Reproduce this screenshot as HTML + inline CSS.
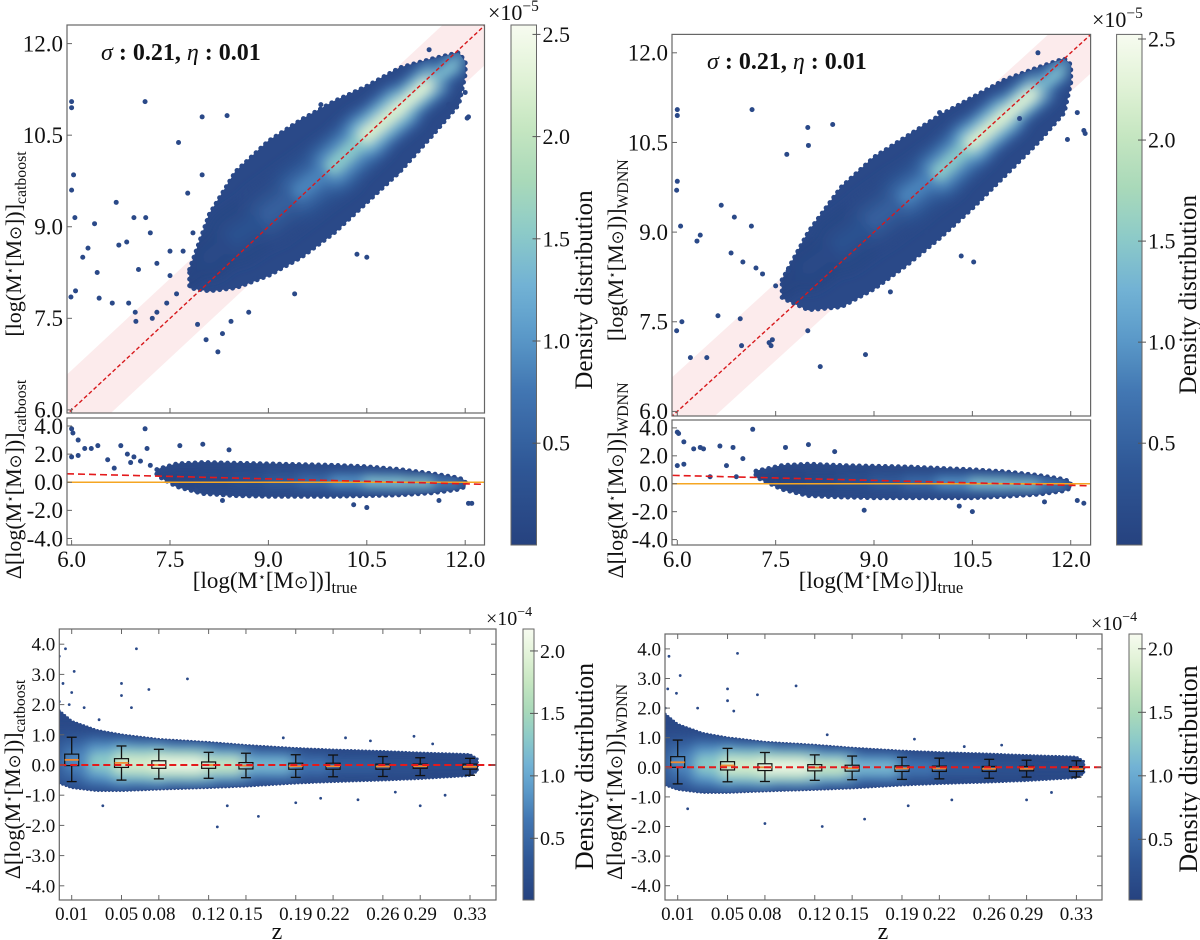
<!DOCTYPE html>
<html><head><meta charset="utf-8"><title>Stellar mass prediction comparison</title>
<style>
html,body{margin:0;padding:0;background:#fff;}
svg{display:block;}
text{font-family:"Liberation Serif","Times New Roman",Times,"DejaVu Serif",serif;}
</style></head>
<body>
<svg id="fig" width="1200" height="940" viewBox="0 0 1200 940" xmlns="http://www.w3.org/2000/svg" font-family="Liberation Serif, Times New Roman, serif">
<defs>
<filter id="blur5" filterUnits="userSpaceOnUse" x="0" y="0" width="1200" height="940"><feGaussianBlur stdDeviation="5"/></filter>
</defs>
</svg>
<script>
// ---------- data ----------
const topXTicks=[6.0,7.5,9.0,10.5,12.0];
const topYTicks=[6.0,7.5,9.0,10.5,12.0];
const resYTicks=[4.0,2.0,0.0,-2.0,-4.0];
const zTicks=[0.01,0.05,0.08,0.12,0.15,0.19,0.22,0.26,0.29,0.33];
const zYTicks=[4.0,3.0,2.0,1.0,0.0,-1.0,-2.0,-3.0,-4.0];
const cbTopTicks=[0.5,1.0,1.5,2.0,2.5];
const cbBotTicks=[0.5,1.0,1.5,2.0];

// main scatter cloud (catboost)
const cbCloudX=[7.8,8.1,8.5,9.0,9.5,10.0,10.5,11.0,11.5,11.9,12.0];
const cbCloudHi=[8.3,9.2,9.9,10.4,10.75,11.05,11.3,11.6,11.75,11.85,11.7];
const cbCloudLo=[8.0,7.95,8.0,8.2,8.5,8.9,9.4,9.9,10.5,11.0,11.5];
const cbCoreY=[8.15,8.5,8.85,9.2,9.6,10.0,10.5,10.95,11.4,11.7,11.65];
const cbCoreD=[0.05,0.1,0.2,0.35,0.6,1.1,1.9,2.5,2.0,0.8,0.3];
const cbOutX=[6.0,6.0,6.03,6.0,6.05,5.99,6.06,6.35,6.25,6.17,6.42,6.39,6.62,6.72,6.87,6.68,6.84,6.95,7.13,7.12,7.63,7.99,7.99,8.37,7.77,6.98,6.97,7.23,7.3,7.92,8.05,8.23,8.3,8.43,7.02,7.5,7.2,10.35,10.5,10.97,12.05,12.03,12.0,11.6,11.75,11.45,9.8,8.8,7.45,7.6,8.7,9.4,7.3,7.5,7.7,7.85];
const cbOutY=[11.05,10.95,9.85,9.6,9.15,7.85,7.95,9.05,8.65,8.5,7.83,8.25,7.75,8.7,7.75,9.4,8.75,9.15,9.15,11.05,10.38,10.8,9.85,10.82,9.55,7.45,7.6,7.5,7.6,7.4,7.15,6.95,7.25,7.45,8.3,8.6,8.9,8.55,8.5,9.9,10.8,10.78,11.2,10.65,11.0,11.9,11.0,8.15,7.75,7.9,7.6,7.9,8.4,8.2,8.6,8.9];
// residual (catboost)
const cbResX=[7.3,7.6,8.0,8.5,9.0,9.5,10.0,10.5,11.0,11.5,11.9,12.0];
const cbResHi=[0.9,1.3,1.4,1.35,1.3,1.25,1.2,1.1,0.9,0.6,0.3,0.1];
const cbResLo=[0.5,-0.3,-0.8,-0.95,-1.0,-1.0,-1.0,-0.95,-0.9,-0.75,-0.5,-0.3];
const cbResCoreY=[0.3,0.3,0.25,0.2,0.15,0.1,0.08,0.05,0.0,-0.05,-0.1,-0.1];
const cbResCoreD=[0.02,0.05,0.1,0.2,0.35,0.55,0.8,1.3,1.8,1.5,0.7,0.3];
const cbResOutX=[6.0,6.02,6.1,6.2,6.3,6.4,6.55,6.65,6.75,6.85,6.95,7.05,7.12,7.15,6.0,6.1,7.65,8.0,8.4,12.05,12.1,10.5,10.3,8.3,11.6,7.6,7.9,6.9,7.2];
const cbResOutY=[3.8,3.5,3.0,2.4,2.4,2.6,1.6,1.0,2.6,2.0,1.8,1.5,3.8,2.4,1.8,1.9,2.6,2.7,2.3,-1.5,-1.5,-1.8,-1.6,-1.3,-1.3,-0.1,-0.6,1.4,1.2];
const regLineX=[5.93,12.3];
const regLineY=[0.6,-0.15];

// main scatter cloud (WDNN)
const wdCloudX=[7.6,8.0,8.5,9.0,9.5,10.0,10.5,11.0,11.5,11.9,12.0];
const wdCloudHi=[8.2,9.0,9.75,10.25,10.6,10.95,11.25,11.55,11.75,11.9,11.8];
const wdCloudLo=[7.9,7.7,7.75,8.05,8.45,8.9,9.4,9.95,10.5,11.0,11.5];
const wdCoreY=[8.05,8.4,8.8,9.2,9.6,10.0,10.5,10.95,11.4,11.75,11.7];
const wdCoreD=[0.05,0.1,0.2,0.35,0.6,1.1,1.9,2.5,2.0,0.8,0.3];
const wdOutX=[6.0,6.0,6.0,5.99,6.05,5.99,6.07,6.3,6.2,6.35,6.45,6.67,6.62,6.82,6.87,6.96,6.98,7.13,7.14,7.67,7.99,8.0,8.37,7.99,8.18,8.87,7.43,7.4,7.45,7.69,10.33,10.52,11.22,12.1,12.2,12.22,11.95,11.5,10.0,9.6,9.8,9.25,7.2,7.0,7.3,7.5];
const wdOutY=[11.05,10.95,9.85,9.7,9.1,7.35,7.5,8.85,6.9,8.95,6.9,9.45,7.6,8.65,9.25,7.55,7.1,9.1,11.05,10.3,10.75,10.45,10.8,7.35,6.75,6.95,7.1,7.15,7.2,8.35,8.6,8.5,10.9,11.0,10.7,10.65,10.55,12.0,11.0,10.65,9.0,8.0,8.4,8.5,8.3,8.1];
const wdResX=[7.2,7.6,8.0,8.5,9.0,9.5,10.0,10.5,11.0,11.5,11.9,12.0];
const wdResHi=[0.9,1.3,1.4,1.3,1.25,1.2,1.1,1.0,0.85,0.6,0.3,0.1];
const wdResLo=[0.5,-0.4,-0.85,-0.95,-1.0,-1.0,-1.0,-1.0,-0.9,-0.75,-0.5,-0.3];
const wdResCoreY=[0.3,0.3,0.25,0.2,0.15,0.1,0.08,0.05,0.0,-0.05,-0.1,-0.1];
const wdResCoreD=[0.02,0.05,0.1,0.2,0.35,0.55,0.8,1.3,1.8,1.5,0.7,0.3];
const wdResOutX=[6.0,6.02,6.1,6.25,6.35,6.4,6.0,6.1,6.65,6.75,6.85,7.15,7.0,7.65,8.0,8.4,12.1,12.2,10.5,10.3,8.85,11.6,7.5,6.5,6.9];
const wdResOutY=[3.7,3.6,3.0,2.5,2.6,2.5,1.3,1.4,2.7,1.3,2.6,3.9,1.8,2.6,2.8,2.3,-1.2,-1.4,-2.0,-1.6,-1.9,-1.3,0.0,0.5,0.5];

// redshift residuals
const zCloudX=[0.0,0.01,0.03,0.05,0.08,0.12,0.15,0.19,0.22,0.26,0.29,0.33,0.336];
const zCloudHi=[1.8,1.45,1.15,1.0,0.85,0.75,0.65,0.55,0.5,0.45,0.4,0.35,0.2];
const zCloudLo=[-0.6,-0.75,-0.85,-0.85,-0.8,-0.75,-0.7,-0.6,-0.55,-0.5,-0.45,-0.35,-0.2];
const zCoreY=[0.15,0.15,0.1,0.05,0.02,0.0,0.0,-0.02,-0.03,-0.04,-0.04,-0.05,-0.05];
const zCoreD=[0.2,0.5,1.0,1.6,2.1,2.0,1.5,0.8,0.5,0.3,0.2,0.1,0.1];
const cbZOutX=[0.0,0.005,0.003,0.01,0.012,0.0,0.008,0.05,0.05,0.062,0.058,0.072,0.103,0.127,0.16,0.035,0.29,0.31,0.27,0.24,0.19,0.23,0.285,0.25,0.135,0.02,0.032,0.21,0.18,0.3];
const cbZOutY=[3.6,3.85,2.7,2.4,3.1,2.1,2.0,2.7,2.3,3.85,1.9,2.5,2.85,-2.05,-1.7,-1.35,-1.35,-1.0,-0.9,-1.15,-1.25,0.9,0.95,0.8,-1.35,1.9,1.5,-1.1,0.9,0.7];
const wdZOutX=[0.003,0.012,0.058,0.05,0.05,0.074,0.105,0.08,0.126,0.16,0.018,0.29,0.195,0.23,0.002,0.009,0.026,0.055,0.0,0.24,0.27,0.2,0.13,0.31];
const wdZOutY=[3.75,3.1,3.85,2.65,2.25,2.45,2.75,-1.9,-2.0,-1.75,-1.4,-1.1,-1.3,-1.1,2.65,2.5,2.0,1.9,2.0,0.7,0.75,0.95,1.1,-0.85];

// box plots
const boxZ=[0.01,0.05,0.08,0.12,0.15,0.19,0.22,0.26,0.29,0.33];
const cbQ3=[0.36,0.21,0.14,0.10,0.08,0.06,0.06,0.03,0.03,0.03];
const cbQ1=[-0.02,-0.08,-0.11,-0.11,-0.13,-0.14,-0.14,-0.14,-0.11,-0.14];
const cbMed=[0.17,0.07,0.0,0.0,-0.02,-0.04,-0.04,-0.05,-0.04,-0.06];
const cbWHi=[0.92,0.63,0.52,0.42,0.39,0.34,0.33,0.28,0.24,0.22];
const cbWLo=[-0.55,-0.5,-0.46,-0.44,-0.42,-0.41,-0.39,-0.38,-0.35,-0.34];
const wdQ3=[0.36,0.19,0.12,0.09,0.07,0.05,0.04,0.03,0.03,0.02];
const wdQ1=[0.0,-0.09,-0.11,-0.12,-0.13,-0.14,-0.14,-0.14,-0.12,-0.14];
const wdMed=[0.17,0.06,0.0,-0.01,-0.03,-0.04,-0.04,-0.05,-0.05,-0.06];
const wdWHi=[0.92,0.64,0.5,0.42,0.38,0.34,0.31,0.27,0.24,0.22];
const wdWLo=[-0.56,-0.49,-0.48,-0.44,-0.42,-0.41,-0.39,-0.37,-0.33,-0.33];

// ---------- drawing ----------
const NS='http://www.w3.org/2000/svg';
const svg=document.getElementById('fig');
const defs=svg.querySelector('defs');
function mk(tag,attrs,parent){const e=document.createElementNS(NS,tag);for(const k in attrs)e.setAttribute(k,attrs[k]);(parent||svg).appendChild(e);return e;}
const CM=[[0,'#26427f'],[0.15,'#2f5796'],[0.3,'#4277b3'],[0.42,'#5f9fcc'],[0.5,'#72b2d4'],[0.6,'#8ccac8'],[0.7,'#a9d9b9'],[0.82,'#cbe8c3'],[0.92,'#e6f4dc'],[1,'#f7fbf0']];
function hx(c){return [parseInt(c.substr(1,2),16),parseInt(c.substr(3,2),16),parseInt(c.substr(5,2),16)];}
function cmap(t){t=Math.max(0,Math.min(1,t));for(let i=1;i<CM.length;i++){if(t<=CM[i][0]){const a=hx(CM[i-1][1]),b=hx(CM[i][1]);const f=(t-CM[i-1][0])/(CM[i][0]-CM[i-1][0]);return 'rgb('+a.map((v,k)=>Math.round(v+(b[k]-v)*f)).join(',')+')';}}return CM[CM.length-1][1];}
let clipN=0;
function clipRect(P){const id='clip'+(clipN++);const c=mk('clipPath',{id:id},defs);mk('rect',{x:P.x0,y:P.y0,width:P.x1-P.x0,height:P.y1-P.y0},c);return id;}

function drawAxesFrame(P,name){
  const r=mk('rect',{x:P.x0,y:P.y0,width:P.x1-P.x0,height:P.y1-P.y0,fill:'none',stroke:'#666','stroke-width':1.2});
  
  
}
function yTicks(P,ticks,fmt,fs,name,both){
  const g=mk('g',{});
  
  
  ticks.forEach(v=>{const y=P.py(v);
    mk('line',{x1:P.x0,x2:P.x0+5,y1:y,y2:y,stroke:'#666','stroke-width':1},g);
    if(both)mk('line',{x1:P.x1,x2:P.x1-5,y1:y,y2:y,stroke:'#666','stroke-width':1},g);
    const t=mk('text',{x:P.x0-4,y:y+fs*0.34,'font-size':fs,'text-anchor':'end',fill:'#111'},g);t.textContent=fmt(v);});
}
function xTicks(P,ticks,fmt,fs,name,labels,base,both){
  const g=mk('g',{});
  
  
  ticks.forEach(v=>{const x=P.px(v);
    mk('line',{x1:x,x2:x,y1:P.y1,y2:P.y1-5,stroke:'#666','stroke-width':1},g);
    if(both)mk('line',{x1:x,x2:x,y1:P.y0,y2:P.y0+5,stroke:'#666','stroke-width':1},g);
    if(labels){const t=mk('text',{x:x,y:base,'font-size':fs,'text-anchor':'middle',fill:'#111'},g);t.textContent=fmt(v);}});
}
function cloud(P,xs,hi,lo,coreY,dens,vmax,name,scale,dotR,layers){
  const pts=xs.map((x,i)=>P.px(x)+','+P.py(hi[i])).concat(xs.slice().reverse().map((x,j)=>{const i=xs.length-1-j;return P.px(x)+','+P.py(lo[i]);})).join(' ');
  const cid='clip'+(clipN++);const c=mk('clipPath',{id:cid},defs);mk('polygon',{points:pts},c);
  const g=mk('g',{});
  
  
  mk('polygon',{points:pts,fill:'#2a4988',stroke:'#2a4988','stroke-width':dotR*2,'stroke-dasharray':'0 '+(dotR*2.6),'stroke-linecap':'round','stroke-linejoin':'round'},g);
  mk('polygon',{points:pts,fill:'#2a4988',stroke:'#2a4988','stroke-width':1,'stroke-linejoin':'round'},g);
  const inner=mk('g',{'clip-path':'url(#'+cid+')'},g);
  const bl=mk('g',{filter:'url(#blur5)'},inner);
  layers.forEach(([wf,df])=>{
    for(let i=0;i<xs.length-1;i++){
      const w=Math.abs(P.py(hi[i])-P.py(lo[i])+P.py(hi[i+1])-P.py(lo[i+1]))/2*wf*scale;
      const d=(dens[i]+dens[i+1])/2*df;
      mk('line',{x1:P.px(xs[i]),y1:P.py(coreY[i]),x2:P.px(xs[i+1]),y2:P.py(coreY[i+1]),stroke:cmap(d/vmax),'stroke-width':Math.max(1,w),'stroke-linecap':'round'},bl);
    }});
  return g;
}
function outliers(P,xs,ys,r,name,clip){
  const g=mk('g',{'clip-path':'url(#'+clip+')'});
  
  
  xs.forEach((x,i)=>mk('circle',{cx:P.px(x),cy:P.py(ys[i]),r:r,fill:'#2a4988'},g));
}
function colorbar(C,ticks,name,fs,expo,ex,ey,lx,ly,lfs){
  const gid='grad'+(clipN++);
  const lg=mk('linearGradient',{id:gid,x1:0,y1:1,x2:0,y2:0},defs);
  for(let i=0;i<=20;i++)mk('stop',{offset:i/20,'stop-color':cmap(i/20)},lg);
  const g=mk('g',{});
  
  
  mk('rect',{x:C.x0,y:C.y0,width:C.x1-C.x0,height:C.y1-C.y0,fill:'url(#'+gid+')',stroke:'#666','stroke-width':1},g);
  ticks.forEach(v=>{const y=C.pv(v);
    mk('line',{x1:C.x1,x2:C.x1-4,y1:y,y2:y,stroke:'#555','stroke-width':1},g);
    mk('line',{x1:C.x1,x2:C.x1+4,y1:y,y2:y,stroke:'#555','stroke-width':1},g);
    const t=mk('text',{x:C.x1+6,y:y+fs*0.34,'font-size':fs,fill:'#111'},g);t.textContent=v.toFixed(1);});
  const et=mk('text',{x:ex,y:ey,'font-size':fs,fill:'#111'},g);
  
  
  et.innerHTML='×10<tspan dy="-9" font-size="'+(fs*0.7)+'">−'+expo+'</tspan>';
  const lt=mk('text',{x:lx,y:ly,'font-size':lfs,'text-anchor':'middle',fill:'#111',transform:'rotate(-90 '+lx+' '+ly+')'},g);
  
  
  lt.textContent='Density distribution';
}
function massLabel(x,y,fs,sub,delta,rot,name){
  const t=mk('text',{x:x,y:y,'font-size':fs,'text-anchor':'middle',fill:'#111'});
  if(rot)t.setAttribute('transform','rotate(-90 '+x+' '+y+')');
  
  
  t.innerHTML=(delta?'Δ':'')+'[log(M<tspan dy="-7" font-size="'+(fs*0.55)+'">⋆</tspan><tspan dy="7">[M</tspan><tspan font-family="DejaVu Sans" font-size="'+(fs*0.75)+'">⊙</tspan>])]<tspan dy="5" font-size="'+(fs*0.72)+'">'+sub+'</tspan>';
}
function boxes(P,z,q1,med,q3,lo,hi,name){
  const g=mk('g',{});
  
  
  z.forEach((v,i)=>{const x=P.px(v),w=14,cw=10;
    mk('line',{x1:x,x2:x,y1:P.py(hi[i]),y2:P.py(q3[i]),stroke:'#111','stroke-width':1.3},g);
    mk('line',{x1:x,x2:x,y1:P.py(q1[i]),y2:P.py(lo[i]),stroke:'#111','stroke-width':1.3},g);
    mk('line',{x1:x-cw/2,x2:x+cw/2,y1:P.py(hi[i]),y2:P.py(hi[i]),stroke:'#111','stroke-width':1.3},g);
    mk('line',{x1:x-cw/2,x2:x+cw/2,y1:P.py(lo[i]),y2:P.py(lo[i]),stroke:'#111','stroke-width':1.3},g);
    mk('rect',{x:x-w/2,y:P.py(q3[i]),width:w,height:P.py(q1[i])-P.py(q3[i]),fill:'none',stroke:'#111','stroke-width':1.2},g);
    mk('line',{x1:x-w/2,x2:x+w/2,y1:P.py(med[i]),y2:P.py(med[i]),stroke:'#f08a30','stroke-width':1.8},g);});
}

const f1=v=>v.toFixed(1), f2=v=>v.toFixed(2);
const TOP_FS=23, BOT_FS=19, CB_FS=22, CBB_FS=20;

function topPanel(M,R,C,d,sub,sx,sy,prefix,ylx,xlc,ex,ey,lx){
  const cm=clipRect(M), cr=clipRect(R);
  const band=mk('polygon',{'clip-path':'url(#'+cm+')',fill:'#fbe4e5','fill-opacity':0.75,points:[[5.5,5.5+0.65],[12.8,12.8+0.65],[12.8,12.8-0.65],[5.5,5.5-0.65]].map(p=>M.px(p[0])+','+M.py(p[1])).join(' ')});
  
  
  const gm=mk('g',{'clip-path':'url(#'+cm+')'});
  
  
  gm.appendChild(cloud(M,d.cx,d.ch,d.cl,d.cy,d.cd,2.546,prefix+'-density-cloud',0.55,2.5,[[0.85,0.3],[0.55,0.6],[0.25,1.0]]));
  outliers(M,d.ox,d.oy,2.5,prefix+'-outliers',cm);
  const dl=mk('line',{'clip-path':'url(#'+cm+')',x1:M.px(5.9),y1:M.py(5.9),x2:M.px(12.4),y2:M.py(12.4),stroke:'#d7191c','stroke-width':1.4,'stroke-dasharray':'4,2.5'});
  
  
  drawAxesFrame(M,prefix+'-main-axes');
  yTicks(M,topYTicks,f1,TOP_FS,prefix+'-y-ticks',false);
  xTicks(M,topXTicks,f1,TOP_FS,prefix+'-main-x-ticks',false,0,false);
  const st=mk('text',{x:sx,y:sy,'font-size':24,fill:'#111','font-weight':'bold'});
  
  
  st.innerHTML='<tspan font-style="italic" font-weight="normal">σ</tspan> : 0.21, <tspan font-style="italic" font-weight="normal">η</tspan> : 0.01';
  const gr=mk('g',{'clip-path':'url(#'+cr+')'});
  
  
  gr.appendChild(cloud(R,d.rx,d.rh,d.rl,d.ry,d.rd,2.546,prefix+'-residual-cloud',0.8,2.5,[[0.85,0.35],[0.55,0.7],[0.25,1.0]]));
  outliers(R,d.rox,d.roy,2.5,prefix+'-residual-outliers',cr);
  const zl=mk('line',{x1:R.x0,x2:R.x1,y1:R.py(0),y2:R.py(0),stroke:'#f5a623','stroke-width':1.6});
  
  
  const rl=mk('line',{'clip-path':'url(#'+cr+')',x1:R.px(regLineX[0]),y1:R.py(regLineY[0]),x2:R.px(regLineX[1]),y2:R.py(regLineY[1]),stroke:'#e41a1c','stroke-width':1.6,'stroke-dasharray':'7,4'});
  
  
  drawAxesFrame(R,prefix+'-residual-axes');
  yTicks(R,resYTicks,f1,TOP_FS,prefix+'-residual-y-ticks',false);
  xTicks(R,topXTicks,f1,TOP_FS,prefix+'-x-ticks',true,567,false);
  colorbar(C,cbTopTicks,prefix+'-colorbar',CB_FS,5,ex,ey,lx,(C.y0+C.y1)/2+5,25);
  massLabel(ylx,(M.y0+M.y1)/2+25,22,sub,false,true,prefix+'-y-axis-title');
  massLabel(ylx,(R.y0+R.y1)/2-2,22,sub,true,true,prefix+'-residual-y-axis-title');
  massLabel(xlc,588,23,'true',false,false,prefix+'-x-axis-title');
}

const TLm={x0:67,y0:25,x1:484.5,y1:413,px:x=>71.6+(x-6)*65.6,py:y=>43.6+(12-y)*61.05};
const TLr={x0:67,y0:418,x1:484.5,y1:545,px:x=>71.6+(x-6)*65.6,py:y=>426+(4-y)*14.06};
const TLc={x0:511,y0:25,x1:536.5,y1:545,pv:v=>443.2-(v-0.5)*204.4};
const TRm={x0:672,y0:34.4,x1:1090.6,y1:416,px:x=>677.3+(x-6)*65.57,py:y=>52.8+(12-y)*59.77};
const TRr={x0:672,y0:420,x1:1090.6,y1:545,px:x=>677.3+(x-6)*65.57,py:y=>427.9+(4-y)*13.96};
const TRc={x0:1116.6,y0:34.4,x1:1142,y1:545,pv:v=>443.2-(v-0.5)*202.1};
const BLm={x0:59.3,y0:629,x1:496,y1:900,px:z=>71.7+(z-0.01)*1244.7,py:y=>765-30.2*y};
const BLc={x0:523,y0:629,x1:534,y1:900,pv:v=>838.3-(v-0.5)*124.9};
const BRm={x0:665,y0:634,x1:1102,y1:900,px:z=>677.7+(z-0.01)*1246,py:y=>767.3-29.6*y};
const BRc={x0:1129,y0:634,x1:1142,y1:900,pv:v=>839.3-(v-0.5)*127};

topPanel(TLm,TLr,TLc,{cx:cbCloudX,ch:cbCloudHi,cl:cbCloudLo,cy:cbCoreY,cd:cbCoreD,ox:cbOutX,oy:cbOutY,rx:cbResX,rh:cbResHi,rl:cbResLo,ry:cbResCoreY,rd:cbResCoreD,rox:cbResOutX,roy:cbResOutY},'catboost',101,60,'catboost',21,275,488,20,592);
topPanel(TRm,TRr,TRc,{cx:wdCloudX,ch:wdCloudHi,cl:wdCloudLo,cy:wdCoreY,cd:wdCoreD,ox:wdOutX,oy:wdOutY,rx:wdResX,rh:wdResHi,rl:wdResLo,ry:wdResCoreY,rd:wdResCoreD,rox:wdResOutX,roy:wdResOutY},'WDNN',707,69,'wdnn',623,881,1092,27,1196);

function zPanel(P,C,ox,oy,q1,med,q3,lo,hi,sub,prefix,ylx,zx,ex,ey,lx){
  const c=clipRect(P);
  const g=mk('g',{'clip-path':'url(#'+c+')'});
  
  
  g.appendChild(cloud(P,zCloudX,zCloudHi,zCloudLo,zCoreY,zCoreD,2.17,prefix+'-z-density-cloud',1.0,1.4,[[0.9,0.4],[0.6,0.7],[0.3,1.0]]));
  outliers(P,ox,oy,1.4,prefix+'-z-outliers',c);
  boxes(P,boxZ,q1,med,q3,lo,hi,prefix+'-box-plots');
  const zl=mk('line',{x1:P.x0,x2:P.x1,y1:P.py(0),y2:P.py(0),stroke:'#e41a1c','stroke-width':2,'stroke-dasharray':'7,4'});
  
  
  drawAxesFrame(P,prefix+'-z-axes');
  yTicks(P,zYTicks,f1,BOT_FS,prefix+'-z-y-ticks',true);
  xTicks(P,zTicks,f2,BOT_FS,prefix+'-z-x-ticks',true,920,true);
  colorbar(C,cbBotTicks,prefix+'-z-colorbar',CBB_FS,4,ex,ey,lx,(C.y0+C.y1)/2+2,26);
  massLabel(ylx,(P.y0+P.y1)/2+15,22,sub,true,true,prefix+'-z-y-axis-title');
  const zt=mk('text',{x:zx,y:939,'font-size':24,'text-anchor':'middle',fill:'#111'});
  
  
  zt.textContent='z';
}
zPanel(BLm,BLc,cbZOutX,cbZOutY,cbQ1,cbMed,cbQ3,cbWLo,cbWHi,'catboost','catboost',20,277,486,625,593);
zPanel(BRm,BRc,wdZOutX,wdZOutY,wdQ1,wdMed,wdQ3,wdWLo,wdWHi,'WDNN','wdnn',622,883,1091,630,1197);
</script>
</body></html>
